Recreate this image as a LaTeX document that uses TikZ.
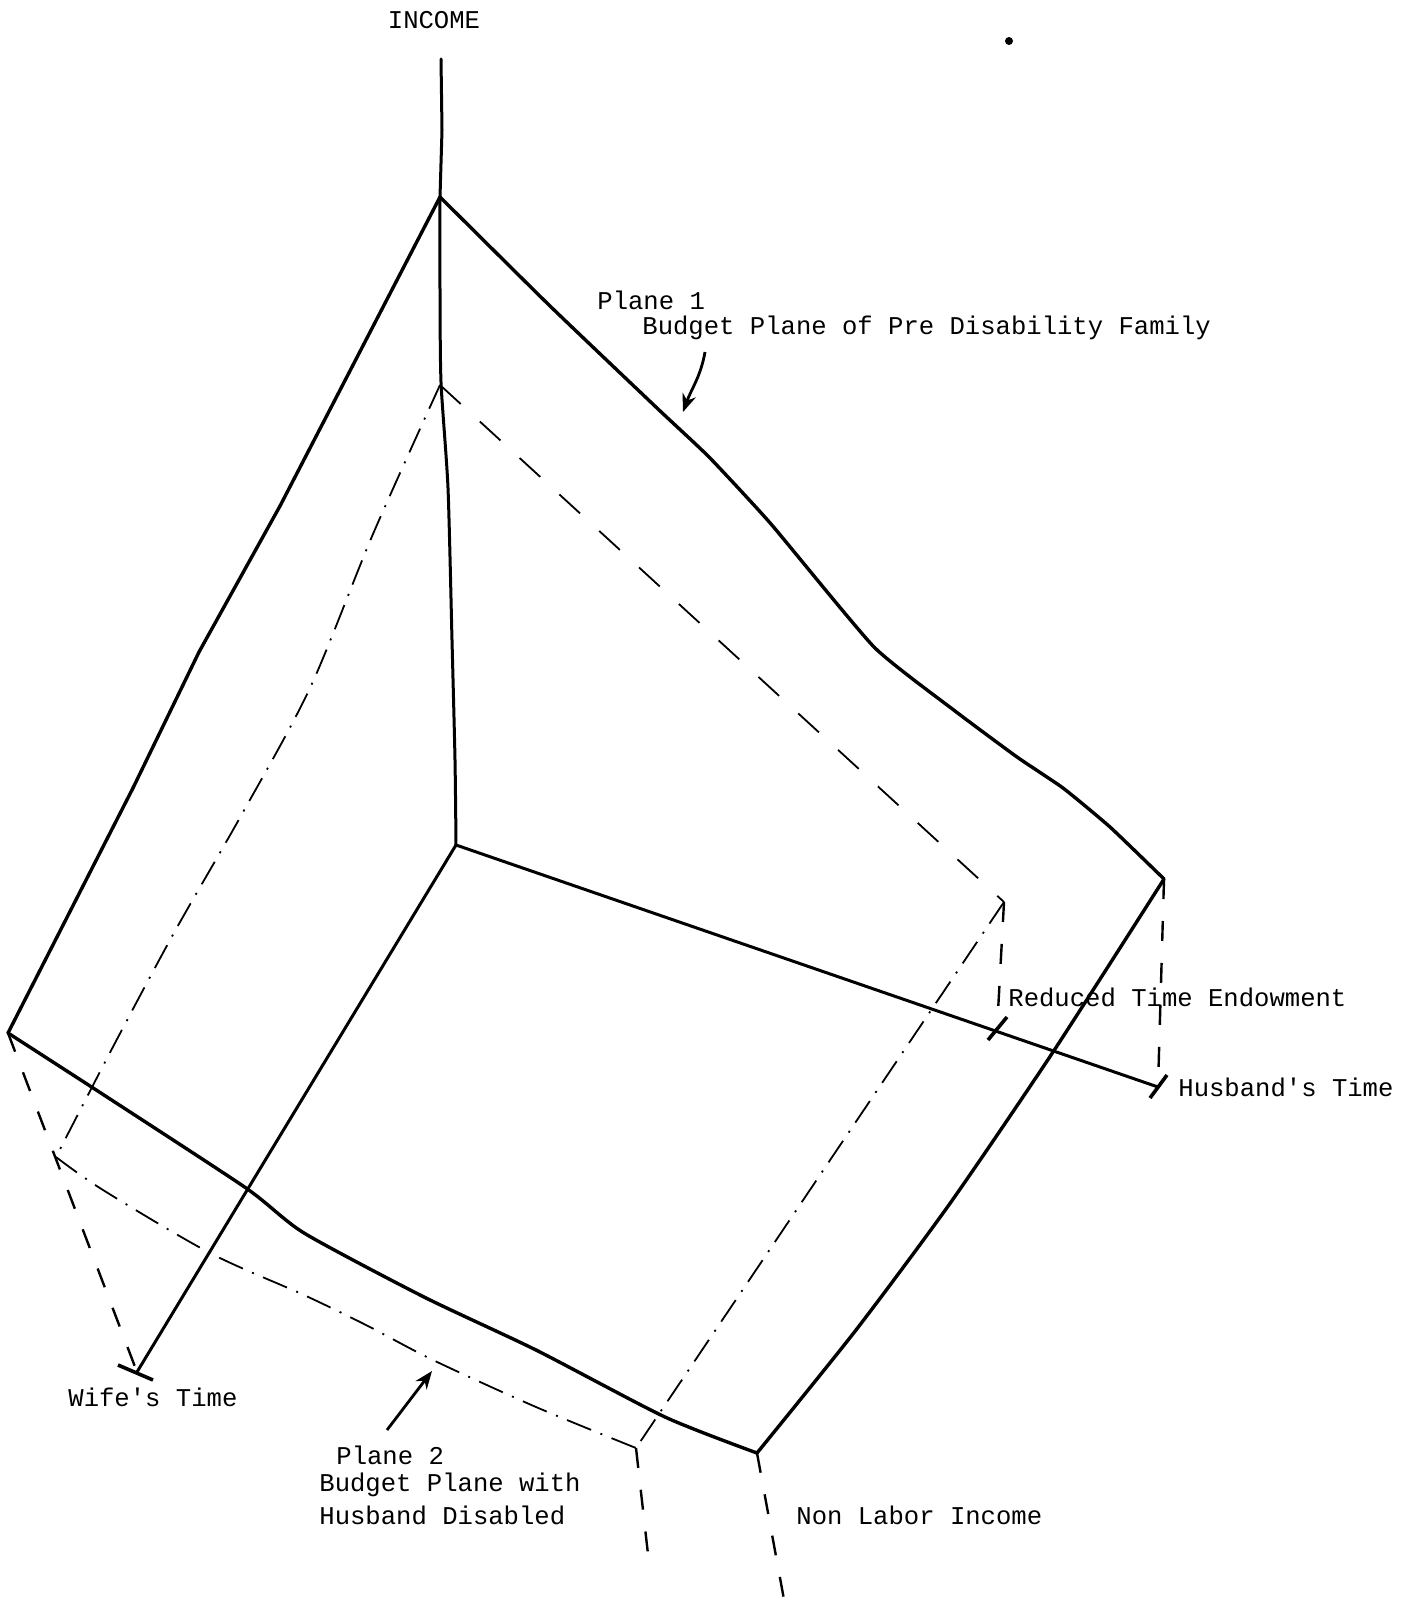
\documentclass[tikz,border=0pt]{standalone}
\usepackage{fontspec}
\setmonofont{Liberation Mono}
\usetikzlibrary{arrows.meta,positioning}

\begin{document}
\begin{tikzpicture}[
  x=0.5pt, y=-0.5pt,
  rim/.style={line width=1.7pt, line join=round, line cap=round},
  axisline/.style={line width=1.5pt, line cap=round, line join=round},
  dashrim/.style={line width=0.9pt, dash pattern=on 14pt off 13pt},
  dotrim/.style={line width=0.9pt, dash pattern=on 13pt off 5pt on 1pt off 5pt},
  dropline/.style={line width=1.2pt, dash pattern=on 10pt off 11pt},
  tickmark/.style={line width=1.8pt},
  pointer/.style={line width=1.4pt, -{Stealth[length=9pt,width=7pt]}},
  lbl/.style={font=\ttfamily\fontsize{12.8}{15}\selectfont, inner sep=0pt, anchor=west},
]
  \useasboundingbox (0,0) rectangle (1411,1611);

  % Axes
  \coordinate (inctop) at (441,59);
  \coordinate (top) at (440,197);
  \coordinate (orig) at (456,845);
  \coordinate (wend) at (137,1372);
  \coordinate (hend) at (1158,1087);
  \coordinate (redu) at (997,1030);
  \draw[axisline] (inctop) -- (442,130) -- (top);
  \draw[axisline] plot[smooth, tension=0.4] coordinates {(top) (440,290) (441,382) (448,488) (452,640) (455,760) (orig)};
  \draw[axisline] (orig) -- (wend);
  \draw[axisline] (orig) -- (hend);
  \draw[tickmark] (118,1365) -- (153,1380);
  \draw[tickmark] (1150,1098) -- (1167,1075);
  \draw[tickmark] (988,1040) -- (1007,1017);

  % Plane 1
  \coordinate (wone) at (8,1033);
  \coordinate (hone) at (1164,879);
  \coordinate (none) at (757,1453);
  \draw[rim] plot[smooth, tension=0.3] coordinates {(top) (550,306) (658,409) (709,457) (771,524) (874,647) (955,711) (1017,757) (1063,788) (1110,827) (hone)};
  \draw[rim] (top) -- (280,506) -- (199,652) -- (133,788) -- (wone);
  \draw[rim] plot[smooth, tension=0.4] coordinates {(wone) (107,1097) (246,1188) (304,1233) (424,1297) (536,1350) (665,1417) (none)};
  \draw[rim] plot[smooth, tension=0.4] coordinates {(hone) (1053,1052) (951,1202) (856,1330) (none)};

  % Plane 2
  \coordinate (ptop) at (440,385);
  \coordinate (wtwo) at (56,1157);
  \coordinate (htwo) at (1004,902);
  \coordinate (ntwo) at (636,1448);
  \draw[dashrim] (ptop) -- (htwo);
  \draw[dotrim] plot[smooth, tension=0.5] coordinates {(ptop) (373,534) (310,688) (242,814) (175,931) (115,1043) (wtwo)};
  \draw[dotrim] plot[smooth, tension=0.5] coordinates {(wtwo) (103,1190) (210,1253) (304,1295) (366,1325) (433,1360) (536,1407) (ntwo)};
  \draw[dotrim] (htwo) -- (ntwo);

  % Drops
  \draw[dropline] (wone) -- (wend);
  \draw[dropline] (hone) -- (hend);
  \draw[dropline] (htwo) -- (redu);
  \draw[dropline] (none) -- (785,1605);
  \draw[dropline] (ntwo) -- (650,1572);

  % Labels
  \node[lbl, anchor=center] (inc) at (434,20) {INCOME};
  \node[lbl] (pone) at (597,300) {Plane 1};
  \node[lbl] (poneb) at (642,328) {Budget Plane of Pre Disability Family};
  \node[lbl] (redt) at (1008,997) {Reduced Time Endowment};
  \node[lbl] (husb) at (1178,1087) {Husband's Time};
  \node[lbl] (wife) at (68,1397) {Wife's Time};
  \node[lbl] (ptwo) at (336,1455) {Plane 2};
  \node[lbl] (ptwob) at (319,1485) {Budget Plane with};
  \node[lbl] (ptwoc) at (319,1515) {Husband Disabled};
  \node[lbl] (nli) at (796,1515) {Non Labor Income};

  % Pointers
  \coordinate (aone) at (705,352);
  \coordinate (bone) at (683,412);
  \draw[pointer] (aone) to[out=-100, in=70] (bone);
  \coordinate (atwo) at (387,1430);
  \coordinate (btwo) at (432,1371);
  \draw[pointer] (atwo) -- (btwo);

  \fill (1009,41) circle (2pt);
\end{tikzpicture}
\end{document}
